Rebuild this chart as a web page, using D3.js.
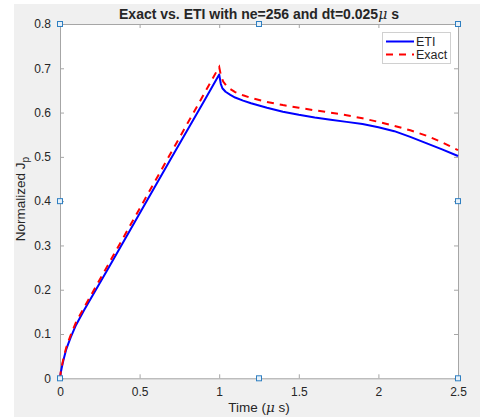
<!DOCTYPE html>
<html>
<head>
<meta charset="utf-8">
<script src="https://cdn.jsdelivr.net/npm/d3@7"></script>
<style>
body{margin:0;background:#fff;}
text{font-family:"Liberation Sans",Arial,Helvetica,sans-serif;fill:#262626;}
</style>
</head>
<body>
<svg id="chart" width="480" height="417"></svg>
<script>
// values
var timeETI   = [0,0.005,0.01,0.017,0.025,0.038,0.05,0.069,0.08,0.1,0.15,0.2,0.3,0.5,0.7,0.9,1.0,1.01,1.02,1.04,1.07,1.1,1.15,1.2,1.3,1.4,1.5,1.6,1.7,1.8,1.9,2.0,2.1,2.2,2.3,2.4,2.5];
var valETI    = [0,0.013,0.022,0.034,0.046,0.064,0.076,0.094,0.103,0.12,0.153,0.184,0.246,0.372,0.498,0.623,0.686,0.665,0.655,0.647,0.640,0.634,0.627,0.621,0.611,0.602,0.595,0.589,0.584,0.579,0.574,0.567,0.558,0.545,0.531,0.517,0.502];
var timeExact = [0,0.005,0.01,0.017,0.025,0.038,0.05,0.069,0.08,0.1,0.15,0.2,0.3,0.5,0.7,0.9,0.99,1.0,1.01,1.025,1.05,1.1,1.15,1.2,1.3,1.4,1.5,1.6,1.7,1.8,1.9,2.0,2.1,2.2,2.3,2.4,2.5];
var valExact  = [0,0.015,0.025,0.037,0.05,0.068,0.081,0.099,0.109,0.126,0.159,0.191,0.255,0.383,0.511,0.639,0.697,0.703,0.685,0.670,0.658,0.646,0.639,0.633,0.624,0.617,0.611,0.605,0.600,0.594,0.587,0.579,0.570,0.560,0.548,0.533,0.515];
var xTicks = [0,0.5,1,1.5,2,2.5];
var yTicks = [0,0.1,0.2,0.3,0.4,0.5,0.6,0.7,0.8];
var handles = [[0,0.8],[1.25,0.8],[2.5,0.8],[0,0.4],[2.5,0.4],[0,0],[1.25,0],[2.5,0]];
var seriesNames = ["ETI","Exact"];

var plot = {left:60, right:458, top:24, bottom:378.3};

var svg = d3.select("#chart");

// grey figure background
svg.append("rect").attr("x",14).attr("y",4).attr("width",466).attr("height",413).attr("fill","#f0f0f0");
svg.append("rect").attr("x",plot.left).attr("y",plot.top)
    .attr("width",plot.right-plot.left).attr("height",plot.bottom-plot.top).attr("fill","#fff");

var xScale = d3.scaleLinear().domain([0,2.5]).range([plot.left,plot.right]);
var yScale = d3.scaleLinear().domain([0,0.8]).range([plot.bottom,plot.top]);

// axes, ticks pointing in, on all four sides
var axisColor = "#a6a6a6";
var drawAxis = function(axis, tx, ty){
    var g = svg.append("g").attr("transform","translate("+tx+","+ty+")").call(axis);
    g.select(".domain").attr("stroke",axisColor);
    g.selectAll(".tick line").attr("stroke",axisColor);
    g.selectAll(".tick text").attr("font-size","12px").attr("fill","#262626")
        .attr("font-family","Liberation Sans, Arial, sans-serif");
    return g;
}
drawAxis(d3.axisBottom(xScale).tickValues(xTicks).tickSizeInner(-4).tickSizeOuter(0).tickPadding(9)
    .tickFormat(d3.format("")), 0, plot.bottom);
drawAxis(d3.axisTop(xScale).tickValues(xTicks).tickSizeInner(-4).tickSizeOuter(0).tickFormat(""), 0, plot.top);
drawAxis(d3.axisLeft(yScale).tickValues(yTicks).tickSizeInner(-4).tickSizeOuter(0).tickPadding(9)
    .tickFormat(d3.format("")), plot.left, 0);
drawAxis(d3.axisRight(yScale).tickValues(yTicks).tickSizeInner(-4).tickSizeOuter(0).tickFormat(""), plot.right, 0);

// lines
var lineGen = function(times){
    return d3.line().x(function(d,i){return xScale(times[i]);}).y(function(d){return yScale(d);});
}
svg.append("path").datum(valETI).attr("d",lineGen(timeETI))
    .attr("fill","none").attr("stroke","#0000ff").attr("stroke-width",2).attr("stroke-linejoin","round");
svg.append("path").datum(valExact).attr("d",lineGen(timeExact))
    .attr("fill","none").attr("stroke","#ff0000").attr("stroke-width",2).attr("stroke-dasharray","7,6");

// selection handles
svg.selectAll(".handle").data(handles).enter().append("rect")
    .attr("class","handle")
    .attr("x",function(d){return xScale(d[0])-2.5;})
    .attr("y",function(d){return yScale(d[1])-2.5;})
    .attr("width",5).attr("height",5)
    .attr("fill","#e6f1fa").attr("stroke","#2f7fc1").attr("stroke-width",1);

// legend
var legend = svg.append("g");
legend.append("rect").attr("x",382.5).attr("y",32.5).attr("width",68).attr("height",31)
    .attr("fill","#fff").attr("stroke","#d0d0d0").attr("stroke-width",1);
var legColors = ["#0000ff","#ff0000"];
var legDash = [null,"7,6"];
seriesNames.forEach(function(name,i){
    var y = 41.5 + i*13;
    legend.append("line").attr("x1",386).attr("x2",414).attr("y1",y).attr("y2",y)
        .attr("stroke",legColors[i]).attr("stroke-width",2).attr("stroke-dasharray",legDash[i]);
    legend.append("text").attr("x",416).attr("y",y+4.5).attr("font-size","12.5px").text(name);
});

// labels
var title = svg.append("text").attr("x",259).attr("y",19).attr("text-anchor","middle")
    .attr("font-size","14px").attr("font-weight","bold");
title.append("tspan").text("Exact vs. ETI with ne=256 and dt=0.025");
title.append("tspan").attr("font-style","italic").attr("font-weight","normal")
    .attr("font-family","DejaVu Serif, serif").text("\u03bc");
title.append("tspan").text(" s");

var xl = svg.append("text").attr("x",259).attr("y",412).attr("text-anchor","middle").attr("font-size","13.5px");
xl.append("tspan").text("Time (");
xl.append("tspan").attr("font-style","italic").attr("font-family","DejaVu Serif, serif").text("\u03bc");
xl.append("tspan").text(" s)");

var yl = svg.append("text").attr("transform","translate(25,199) rotate(-90)")
    .attr("text-anchor","middle").attr("font-size","13.5px");
yl.append("tspan").text("Normalized J");
yl.append("tspan").attr("dy",4).attr("font-size","10px").text("p");
</script>
</body>
</html>
